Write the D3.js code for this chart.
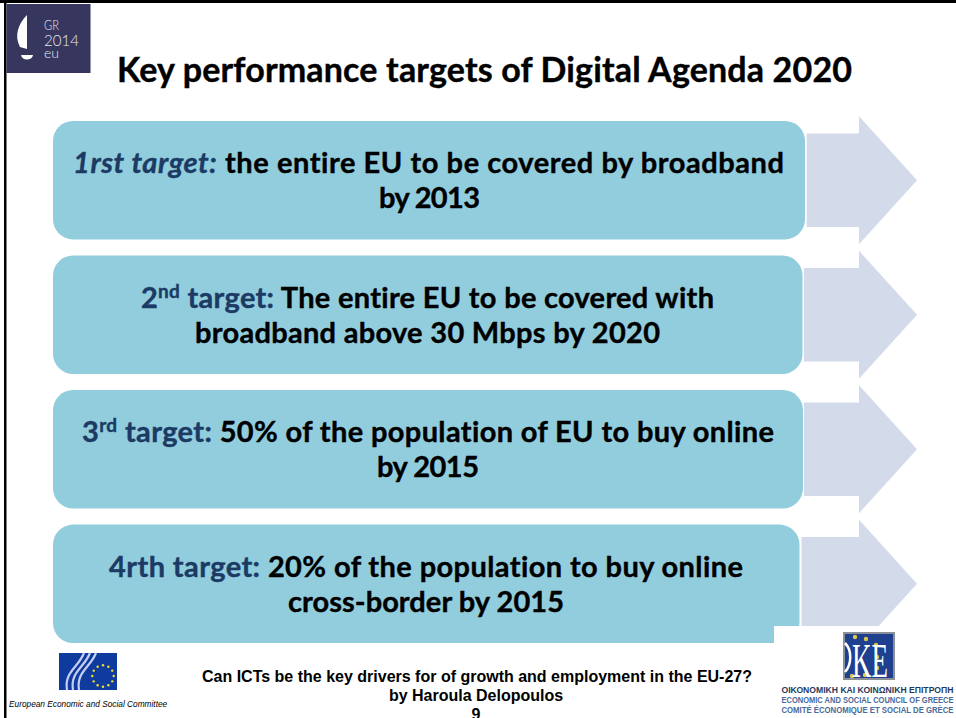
<!DOCTYPE html>
<html>
<head>
<meta charset="utf-8">
<script src="https://cdn.jsdelivr.net/npm/d3@7"></script>
<style>
  html, body { margin: 0; padding: 0; background: #fff; }
  svg { display: block; }
  text { font-family: Lato, "Open Sans", sans-serif; font-weight: 700; font-variant-ligatures: none; }
  .heavy { stroke: currentColor; stroke-width: 0.4; }
  .arial { font-family: "Liberation Sans", Arial, sans-serif; }
  .serif { font-family: "Liberation Serif", serif; }
</style>
</head>
<body>
<div id="chart"></div>
<script>
const title = 'Key performance targets of Digital Agenda 2020';

const targets = ['1rst', '2nd', '3rd', '4rth'];

// [text, superscript?, italic?] pieces of the blue lead-in
const leads = [
  [['1rst target:', false, true]],
  [['2', false, false], ['nd', true, false], [' target:', false, false]],
  [['3', false, false], ['rd', true, false], [' target:', false, false]],
  [['4rth target:', false, false]],
];
const firstLines = [
  ' the entire EU to be covered by broadband',
  ' The entire EU to be covered with',
  ' 50% of the population of EU to buy online',
  ' 20% of the population to buy online',
];
const secondLines = [
  'by 2013',
  'broadband above 30 Mbps by 2020',
  'by 2015',
  'cross-border by 2015',
];
const footerLines = [
  'Can ICTs be the key drivers for of growth and employment in the EU-27?',
  'by Haroula Delopoulos',
  '9',
];
const ikeLines = [
  'ΟΙΚΟΝΟΜΙΚΗ ΚΑΙ ΚΟΙΝΩΝΙΚΗ ΕΠΙΤΡΟΠΗ',
  'ECONOMIC AND SOCIAL COUNCIL OF GREECE',
  'COMITÉ ÉCONOMIQUE ET SOCIAL DE GRÈCE',
];

const width = 956;
const height = 718;

// layout
const boxRight = [805, 802.5, 803, 799.5];
const arrowLeft = [806.7, 804, 804, 801.5];
const firstExtent = [[73, 784], [141, 714], [82, 774], [109, 743]];
const secondExtent = [[379, 480], [195, 660], [377, 479], [288, 564]];

const svg = d3.select('#chart').append('svg')
  .attr('width', width)
  .attr('height', height)
  .attr('viewBox', `0 0 ${width} ${height}`);

// slide frame
svg.append('rect').attr('x', 0).attr('y', 0).attr('width', width).attr('height', 3).attr('fill', '#000');
svg.append('rect').attr('x', 4).attr('y', 0).attr('width', 2.5).attr('height', height).attr('fill', '#000');

// GR2014 badge
const badge = svg.append('g');
badge.append('rect').attr('x', 6.5).attr('y', 4).attr('width', 84).attr('height', 69).attr('fill', '#36365f');
badge.append('path').attr('d', 'M27,15 C18,24 14,36 20,47 L27,49 Z').attr('fill', '#fff');
badge.append('path').attr('d', 'M21,55 L33,55 C32,61 22,61 21,55 Z').attr('fill', '#fff');
badge.selectAll('text')
  .data([['GR', 30, 14.5, 15], ['2014', 46, 16, 35], ['eu', 58, 14.5, 15]])
  .join('text')
  .attr('x', 44)
  .attr('y', (d) => d[1])
  .attr('font-size', (d) => d[2])
  .attr('textLength', (d) => d[3])
  .attr('lengthAdjust', 'spacingAndGlyphs')
  .attr('fill', '#e8e8f0')
  .style('font-weight', 300)
  .text((d) => d[0]);

svg.append('text')
  .attr('class', 'heavy')
  .attr('x', 484.5)
  .attr('y', 82)
  .attr('text-anchor', 'middle')
  .attr('font-size', 34)
  .attr('textLength', 735)
  .attr('lengthAdjust', 'spacing')
  .attr('fill', '#000')
  .style('color', '#000')
  .text(title);

const yScale = d3.scaleBand()
  .domain(targets)
  .range([121, 643])
  .paddingInner(0.12);

const rows = targets.map((t, i) => ({ t, i }));

// arrows sit behind the boxes
svg.append('g').selectAll('path')
  .data(rows)
  .join('path')
  .attr('fill', '#d3daea')
  .attr('d', (d) => {
    const mid = yScale(d.t) + yScale.bandwidth() / 2;
    const h = yScale.bandwidth();
    const x0 = arrowLeft[d.i];
    const p = d3.path();
    p.moveTo(x0, mid - h * 0.395);
    p.lineTo(859, mid - h * 0.395);
    p.lineTo(859, mid - h * 0.54);
    p.lineTo(917, mid);
    p.lineTo(859, mid + h * 0.54);
    p.lineTo(859, mid + h * 0.395);
    p.lineTo(x0, mid + h * 0.395);
    p.closePath();
    return p.toString();
  });

svg.append('g').selectAll('rect')
  .data(rows)
  .join('rect')
  .attr('x', 53)
  .attr('y', (d) => yScale(d.t))
  .attr('width', (d) => boxRight[d.i] - 53)
  .attr('height', yScale.bandwidth())
  .attr('rx', 20)
  .attr('fill', '#92cddd');

const textG = svg.append('g').attr('font-size', 29).attr('text-anchor', 'middle');

rows.forEach((d) => {
  const y = yScale(d.t) + 52;
  const [a, b] = firstExtent[d.i];
  const [c, e] = secondExtent[d.i];
  const line1 = textG.append('text')
    .attr('class', 'heavy')
    .attr('x', (a + b) / 2)
    .attr('y', y)
    .attr('textLength', b - a)
    .attr('lengthAdjust', 'spacing')
    .attr('xml:space', 'preserve');
  leads[d.i].forEach(([txt, sup, ital]) => {
    line1.append('tspan')
      .attr('fill', '#1b3a64')
      .style('color', '#1b3a64')
      .attr('font-style', ital ? 'italic' : null)
      .attr('font-size', sup ? 19 : null)
      .attr('baseline-shift', sup ? '10' : null)
      .text(txt);
  });
  line1.append('tspan').attr('fill', '#000').style('color', '#000').text(firstLines[d.i]);
  textG.append('text')
    .attr('class', 'heavy')
    .attr('x', (c + e) / 2)
    .attr('y', y + 35)
    .attr('textLength', e - c)
    .attr('lengthAdjust', 'spacing')
    .attr('fill', '#000')
    .style('color', '#000')
    .text(secondLines[d.i]);
});

// white patch behind the logo at bottom right
svg.append('rect').attr('x', 774).attr('y', 626).attr('width', 182).attr('height', 92).attr('fill', '#fff');

// EESC logo
const eesc = svg.append('g');
eesc.append('rect').attr('x', 59).attr('y', 653).attr('width', 58).attr('height', 37).attr('fill', '#0f3a9e');
eesc.append('g').selectAll('path')
  .data([0, 6, 12])
  .join('path')
  .attr('d', (d) => `M${67 + d},690 C${64 + d},672 ${78 + d},668 ${84 + d},653`)
  .attr('fill', 'none')
  .attr('stroke', '#c5cdf0')
  .attr('stroke-width', 2.2);
const starAngle = d3.scaleLinear().domain([0, 12]).range([0, 2 * Math.PI]);
eesc.append('g').selectAll('circle')
  .data(d3.range(12))
  .join('circle')
  .attr('cx', (d) => 103 + 10.7 * Math.sin(starAngle(d)))
  .attr('cy', (d) => 676 - 10.7 * Math.cos(starAngle(d)))
  .attr('r', 1.2)
  .attr('fill', '#f0e030');

svg.append('text')
  .attr('class', 'arial')
  .attr('x', 9)
  .attr('y', 707)
  .attr('font-size', 8.3)
  .attr('font-style', 'italic')
  .style('font-family', '"Liberation Sans", sans-serif')
  .style('font-weight', 400)
  .attr('fill', '#000')
  .text('European Economic and Social Committee');

svg.append('g').selectAll('text')
  .data(footerLines)
  .join('text')
  .attr('x', (d, i) => (i === 0 ? 477 : 476))
  .attr('y', (d, i) => 682 + i * 19)
  .attr('text-anchor', 'middle')
  .attr('font-size', 16)
  .style('font-family', '"Liberation Sans", sans-serif')
  .attr('fill', '#000')
  .text((d) => d);

// IKE logo
const ike = svg.append('g');
ike.append('rect').attr('x', 843).attr('y', 632).attr('width', 52).attr('height', 48).attr('fill', '#8a8f98');
ike.append('rect').attr('x', 845).attr('y', 634).attr('width', 48).attr('height', 44).attr('fill', '#1f3f8f');
ike.append('g').selectAll('circle')
  .data([[855, 637], [866, 639], [876, 645], [877, 657], [877, 668], [865, 675], [852, 676]])
  .join('circle')
  .attr('cx', (d) => d[0])
  .attr('cy', (d) => d[1])
  .attr('r', 2.2)
  .attr('fill', '#d9c84a');
ike.append('path').attr('d', 'M845,643 C852,650 852,664 845,672').attr('fill', 'none').attr('stroke', '#fff').attr('stroke-width', 2.5);
ike.append('text').attr('x', 870).attr('y', 677).attr('text-anchor', 'middle')
  .attr('class', 'serif')
  .attr('font-size', 48)
  .style('font-family', '"Liberation Serif", serif')
  .style('font-weight', 400)
  .attr('textLength', 36)
  .attr('lengthAdjust', 'spacingAndGlyphs')
  .attr('fill', '#fff')
  .text('KE');

svg.append('g').selectAll('text')
  .data(ikeLines)
  .join('text')
  .attr('x', 867.5)
  .attr('y', (d, i) => 693 + i * 10)
  .attr('text-anchor', 'middle')
  .attr('font-size', 8.5)
  .style('font-family', '"Liberation Sans Narrow", "Liberation Sans", sans-serif')
  .style('font-weight', 700)
  .attr('textLength', 172)
  .attr('lengthAdjust', 'spacingAndGlyphs')
  .attr('fill', (d, i) => (i === 0 ? '#1f3a60' : '#4a6a9a'))
  .text((d) => d);
</script>
</body>
</html>
